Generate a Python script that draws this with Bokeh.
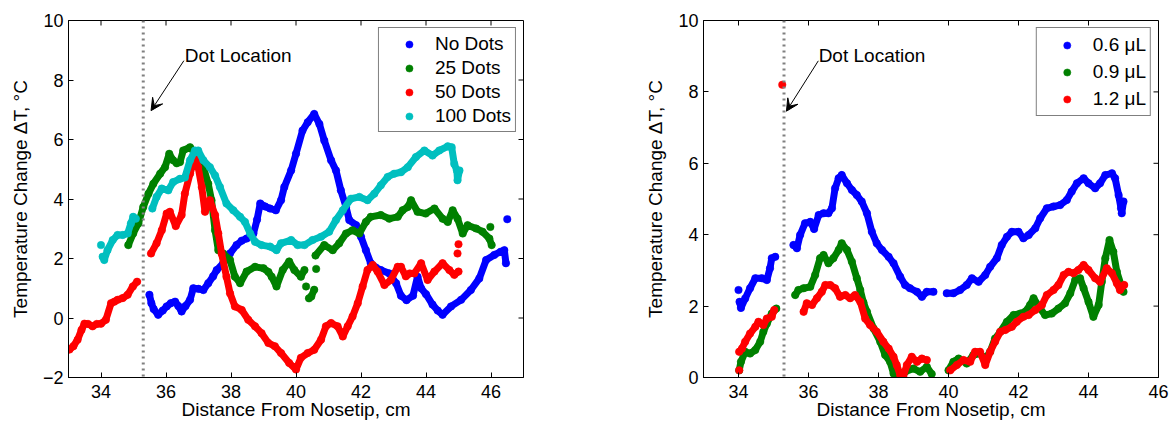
import math
from bokeh.plotting import figure
from bokeh.layouts import row
from bokeh.models import (Span, Label, Arrow, VeeHead, Legend, LegendItem,
                          FixedTicker, Range1d)
from bokeh.embed import file_html
from bokeh.resources import INLINE

nan = float("nan")

# ---------------- left panel: number of dots ----------------
nodots_x = [35.49, 35.55, 35.62, 35.76, 35.9, 36.02, 36.15, 36.28, 36.38, 36.48, 36.6, 36.74,
            36.84, 37.0, 37.15, 37.3, 37.45, 37.56, 37.76, 37.97, 38.17, 38.33, 38.48, 38.69,
            38.8, 38.9, 39.05, 39.2, 39.38, 39.54, 39.64, 39.85, 40.0, 40.2, 40.36, 40.56,
            40.72, 40.87, 41.08, 41.23, 41.38, 41.54, 41.64, 41.85, 42.0, 42.15, 42.3, 42.45,
            42.61, 42.87, 43.08, 43.23, 43.4, 43.6, 43.74, 43.85, 44.0, 44.2, 44.36, 44.51,
            44.77, 45.08, 45.38, 45.64, 45.85, 46.1, 46.3, 46.41, 46.46, nan, 46.5]
nodots_y = [0.78, 0.5, 0.3, 0.11, 0.25, 0.39, 0.5, 0.55, 0.4, 0.22, 0.4, 0.61,
            1.0, 0.98, 0.94, 1.17, 1.4, 1.61, 1.84, 2.17, 2.45, 2.6, 2.67, 2.84,
            3.3, 3.85, 3.75, 3.68, 3.62, 3.96, 4.4, 4.96, 5.52, 6.3, 6.58, 6.86,
            6.52, 5.97, 5.3, 4.96, 4.29, 3.73, 3.29, 3.12, 2.73, 2.28, 1.84, 1.7,
            1.61, 1.5, 1.17, 0.75, 0.6, 0.75, 1.39, 1.0, 0.8, 0.45, 0.25, 0.11,
            0.39, 0.61, 0.94, 1.33, 1.95, 2.12, 2.23, 2.28, 1.84, nan, 3.32]

dots25_x = [34.84, 34.99, 35.15, 35.3, 35.46, 35.61, 35.82, 35.97, 36.1, 36.22, 36.33, 36.43,
            36.53, 36.74, 36.94, 37.15, 37.3, 37.4, 37.51, 37.61, 37.76, 37.97, 38.12, 38.28,
            38.48, 38.74, 39.0, 39.15, 39.25, 39.4, 39.59, 39.79, 39.95, 40.15, 40.26,
            nan, 40.31, nan, 40.4, 40.47, 40.56, nan, 40.62, nan,
            40.6, 40.87, 41.13, 41.33, 41.54, 41.74, 41.95, 42.15, 42.3, 42.61, 42.87, 43.13,
            43.28, 43.44, 43.54, 43.74, 43.99, 44.26, 44.51, 44.67, 44.82, 44.97, 45.13, 45.28,
            45.54, 45.74, 45.95, 46.02, nan, 45.98]
dots25_y = [2.45, 2.84, 3.18, 3.73, 4.18, 4.51, 4.85, 5.07, 5.52, 5.3, 5.2, 5.24,
            5.63, 5.74, 5.46, 5.07, 4.51, 3.96, 2.95, 2.28, 2.17, 1.95, 1.39, 1.17,
            1.56, 1.72, 1.67, 1.55, 1.39, 1.06, 1.61, 1.9, 1.61, 1.39, 1.61,
            nan, 1.06, nan, 0.66, 0.72, 0.95, nan, 1.65, nan,
            2.1, 2.45, 2.28, 2.51, 2.84, 2.95, 2.84, 3.23, 3.4, 3.46, 3.34, 3.4,
            3.62, 3.73, 3.96, 3.57, 3.51, 3.68, 3.34, 3.23, 3.62, 3.34, 2.84, 3.12,
            3.01, 2.9, 2.67, 2.45, nan, 3.06]

dots50_x = [33.03, 33.15, 33.28, 33.4, 33.49, 33.6, 33.74, 33.87, 34.0, 34.15, 34.31, 34.41,
            34.51, 34.67, 34.82, 34.98, 35.11, nan,
            35.54, 35.71, 35.87, 36.02, 36.12, 36.3, 36.48, 36.58, 36.74, 36.89, 36.99, 37.1,
            37.2, 37.35, 37.51, 37.61, 37.71, 37.86, 37.97, 38.12, 38.33, 38.53, 38.74, 38.94,
            39.15, 39.35, 39.54, 39.79, 40.0, 40.15, 40.36, 40.56, 40.77, 40.92, 41.08, 41.28,
            41.44, 41.59, 41.74, 41.9, 42.05, 42.2, 42.36, 42.51, 42.72, 42.92, 43.13, 43.23,
            43.38, 43.5, 43.64, 43.85, 44.05, 44.26, 44.51, 44.72, 44.87, 45.0,
            nan, 44.97, nan, 45.0]
dots50_y = [-1.06, -0.95, -0.73, -0.4, -0.19, -0.2, -0.28, -0.2, -0.19, -0.06, 0.5, 0.55,
            0.61, 0.67, 0.78, 1.06, 1.22, nan,
            2.17, 2.51, 2.95, 3.51, 3.57, 3.09, 3.46, 4.18, 4.85, 5.41, 5.07, 4.4,
            3.57, 3.96, 3.46, 2.84, 2.17, 1.39, 0.83, 0.39, 0.27, -0.06, -0.28, -0.51,
            -0.84, -0.95, -1.18, -1.51, -1.73, -1.34, -1.18, -1.07, -0.73, -0.28, -0.17, -0.28,
            -0.62, -0.28, 0.05, 0.5, 1.06, 1.61, 1.78, 1.56, 1.11, 1.28, 1.72, 1.72,
            1.4, 1.5, 1.5, 1.84, 1.28, 1.56, 1.84, 1.61, 1.45, 1.56,
            nan, 2.17, nan, 2.48]

dots100_x = [34.0, nan,
             34.05, 34.1, 34.2, 34.36, 34.51, 34.67, 34.82, 34.92, 34.99, 35.07, nan,
             35.58, 35.71, 35.87, 36.07, 36.22, 36.43, 36.58, 36.74, 36.89, 36.99, 37.15, 37.35,
             37.51, 37.66, 37.86, 38.07, 38.28, 38.43, 38.59, 38.74, 38.94, 39.2, 39.4, 39.54,
             39.85, 40.05, 40.26, 40.51, 40.77, 41.02, 41.23, 41.44, 41.69, 41.95, 42.2, 42.41,
             42.61, 42.82, 43.02, 43.23, 43.44, 43.69, 43.95, 44.2, 44.41, 44.67, 44.79, 44.87,
             44.95, 44.97, 45.03]
dots100_y = [2.45, nan,
             2.06, 1.95, 2.28, 2.62, 2.79, 2.79, 2.84, 3.18, 3.4, 3.34, nan,
             3.68, 4.07, 4.35, 4.29, 4.57, 4.68, 4.72, 5.3, 5.63, 5.63, 5.3, 5.07,
             4.79, 4.4, 3.85, 3.62, 3.4, 3.23, 2.84, 2.56, 2.45, 2.4, 2.28, 2.51,
             2.62, 2.45, 2.45, 2.62, 2.73, 2.9, 3.29, 3.62, 4.01, 4.07, 3.96, 4.18,
             4.46, 4.74, 4.85, 4.9, 5.07, 5.41, 5.63, 5.46, 5.63, 5.77, 5.74, 5.18,
             4.96, 4.63, 4.96]

# ---------------- right panel: droplet volume ----------------
vol06_x = [34.0, nan,
           34.03, 34.07, 34.19, 34.33, 34.48, 34.67, 34.81, 34.9, 34.95, 35.05, nan,
           35.57, 35.67, 35.76, 35.9, 36.05, 36.16, 36.29, 36.43, 36.57, 36.67, 36.76, 36.86,
           36.95, 37.1, 37.24, 37.38, 37.52, 37.67, 37.81, 37.95, 38.1, 38.29, 38.43, 38.62,
           38.76, 38.9, 39.1, 39.24, 39.38, 39.57, nan,
           39.95, 40.14, 40.33, 40.52, 40.67, 40.86, 41.05, 41.19, 41.38, 41.52, 41.67, 41.81,
           42.0, 42.14, 42.29, 42.48, 42.62, 42.81, 43.0, 43.19, 43.38, 43.52, 43.67, 43.86,
           44.0, 44.19, 44.33, 44.48, 44.67, 44.76, 44.86, 44.93, 44.95, 45.0]
vol06_y = [2.45, nan,
           2.12, 1.95, 2.21, 2.5, 2.78, 2.78, 2.73, 3.06, 3.34, 3.38, nan,
           3.71, 3.62, 3.99, 4.32, 4.36, 4.16, 4.55, 4.6, 4.6, 4.74, 5.3, 5.58,
           5.67, 5.44, 5.25, 5.11, 4.93, 4.6, 4.08, 3.76, 3.57, 3.38, 3.2, 2.82,
           2.59, 2.5, 2.4, 2.26, 2.4, 2.4, nan,
           2.36, 2.36, 2.45, 2.59, 2.78, 2.68, 2.87, 3.1, 3.34, 3.71, 3.94, 4.08,
           4.08, 3.9, 3.99, 4.18, 4.46, 4.74, 4.79, 4.83, 4.97, 5.21, 5.44, 5.58,
           5.44, 5.3, 5.44, 5.67, 5.72, 5.58, 5.11, 4.74, 4.6, 4.93]

vol09_x = [34.02, 34.07, 34.19, 34.33, 34.48, 34.62, 34.71, 34.81, 34.95, 35.08, nan,
           35.62, 35.71, 35.86, 36.05, 36.19, 36.33, 36.43, 36.57, 36.71, 36.86, 36.95, 37.1,
           37.24, 37.38, 37.48, 37.57, 37.67, 37.86, 38.05, 38.19, 38.33, 38.43, 38.52, 38.65,
           38.76, 39.0, 39.19, 39.38, 39.52, nan,
           40.0, 40.14, 40.29, 40.52, 40.71, 40.9, 41.05, 41.19, 41.33, 41.48, 41.67, 41.86,
           42.05, 42.19, 42.33, 42.43, 42.62, 42.76, 42.95, 43.14, 43.33, 43.48, 43.62, 43.76,
           43.86, 44.0, 44.14, 44.29, 44.38, 44.48, 44.6, 44.71, 44.81, 44.93, 45.0]
vol09_y = [0.2, 0.44, 0.72, 0.67, 0.77, 1.0, 1.28, 1.51, 1.79, 1.93, nan,
           2.31, 2.45, 2.5, 2.54, 2.87, 3.34, 3.43, 3.2, 3.34, 3.57, 3.76, 3.57,
           3.24, 2.78, 2.45, 2.1, 1.84, 1.37, 1.0, 0.63, 0.44, 0.11, 0.02, 0.1,
           0.16, 0.25, 0.16, 0.3, 0.1, nan,
           0.2, 0.44, 0.53, 0.39, 0.63, 0.67, 0.53, 0.72, 1.09, 1.28, 1.56, 1.75,
           1.79, 1.84, 2.03, 2.22, 1.93, 1.75, 1.79, 1.93, 2.08, 2.36, 2.73, 2.78,
           2.5, 2.12, 1.7, 2.03, 2.68, 3.34, 3.85, 3.52, 2.96, 2.59, 2.4]

vol12_x = [35.25, nan, 34.02, nan,
           34.02, 34.1, 34.19, 34.33, 34.48, 34.57, 34.71, 34.81, 34.95, 35.02, nan,
           35.86, 35.95, 36.1, 36.24, 36.38, 36.48, 36.62, 36.76, 36.9, 37.05, 37.19, 37.33,
           37.48, 37.62, 37.76, 37.95, 38.14, 38.29, 38.43, 38.52, 38.62, 38.71, 38.81, 38.95,
           39.1, 39.24, 39.38, nan,
           40.05, 40.24, 40.43, 40.62, 40.76, 40.9, 41.05, 41.19, 41.33, 41.48, 41.62, 41.81,
           41.95, 42.14, 42.29, 42.48, 42.67, 42.81, 43.0, 43.14, 43.29, 43.43, 43.57, 43.71,
           43.86, 44.0, 44.19, 44.33, 44.52, 44.67, 44.81, 44.9, 45.02]
vol12_y = [8.2, nan, 0.2, nan,
           0.72, 0.81, 1.0, 1.23, 1.42, 1.56, 1.47, 1.65, 1.7, 1.89, nan,
           1.84, 2.08, 2.03, 2.22, 2.4, 2.59, 2.59, 2.5, 2.26, 2.31, 2.22, 2.31,
           2.12, 1.65, 1.47, 1.28, 1.0, 0.81, 0.58, 0.35, 0.07, 0.04, 0.35, 0.58,
           0.44, 0.53, 0.49, nan,
           0.2, 0.35, 0.49, 0.44, 0.72, 0.72, 0.35, 0.72, 1.0, 1.28, 1.33, 1.42,
           1.56, 1.7, 1.75, 1.89, 2.03, 2.31, 2.45, 2.59, 2.87, 2.96, 2.92, 3.01,
           3.15, 3.01, 2.78, 2.68, 3.06, 2.92, 2.64, 2.45, 2.59]

left_labels = ["No Dots", "25 Dots", "50 Dots", "100 Dots"]
right_labels = ["0.6 μL", "0.9 μL", "1.2 μL"]
x_ticks = [34, 36, 38, 40, 42, 44, 46]
left_y_ticks = [-2, 0, 2, 4, 6, 8, 10]
right_y_ticks = [0, 2, 4, 6, 8, 10]
dot_location = 35.3

FONT = "Liberation Sans"
BLUE, GREEN, RED, CYAN = "#0000ff", "#008000", "#ff0000", "#00bfbf"


def style_axis(ax, ticks):
    ax.ticker = FixedTicker(ticks=ticks)
    ax.major_tick_in = 5
    ax.major_tick_out = 0
    ax.minor_tick_line_color = None
    ax.axis_line_color = "black"
    ax.axis_line_width = 1
    ax.major_tick_line_color = "black"
    ax.major_tick_line_width = 1
    ax.major_label_text_font = FONT
    ax.major_label_text_color = "black"
    ax.major_label_text_font_size = "18px"


def panel(width, xr, yr, yticks, b_left, b_right, ylabel_standoff):
    p = figure(width=width, height=423, x_range=Range1d(*xr), y_range=Range1d(*yr),
               output_backend="svg", toolbar_location=None,
               min_border_left=b_left, min_border_right=b_right,
               min_border_top=20, min_border_bottom=46)
    p.grid.visible = False
    p.outline_line_color = "black"
    p.outline_line_width = 1
    p.background_fill_color = "white"
    p.border_fill_color = "white"

    style_axis(p.xaxis[0], x_ticks)
    style_axis(p.yaxis[0], yticks)
    p.xaxis.major_label_standoff = 7
    p.yaxis.major_label_standoff = 5
    p.yaxis.major_label_overrides = {t: ("−%d" % -t if t < 0 else str(t)) for t in yticks}

    p.xaxis.axis_label = "Distance From Nosetip, cm"
    p.yaxis.axis_label = "Temperature Change ΔT, °C"
    for ax in (p.xaxis[0], p.yaxis[0]):
        ax.axis_label_text_font = FONT
        ax.axis_label_text_font_size = "19px"
        ax.axis_label_text_font_style = "normal"
        ax.axis_label_text_color = "black"
    p.xaxis.axis_label_standoff = -2
    p.yaxis.axis_label_standoff = ylabel_standoff

    # inward tick marks on the top and right edges of the box
    p.ray(x=x_ticks, y=[yr[1]] * len(x_ticks), length=5, length_units="screen",
          angle=-math.pi / 2, line_color="black", line_width=1)
    p.ray(x=[xr[1]] * len(yticks), y=yticks, length=5, length_units="screen",
          angle=math.pi, line_color="black", line_width=1)

    p.add_layout(Span(location=dot_location, dimension="height", line_color="#808080",
                      line_width=3, line_dash="2 4"))
    return p


def add_series(p, xs, ys, color):
    p.line(xs, ys, line_color=color, line_width=7, line_join="round", line_cap="round")
    return p.scatter(xs, ys, size=7.5, fill_color=color, line_color=color, line_width=0.5)


def add_legend(p, items, label_height, spacing):
    legend = Legend(items=items, location="top_right", margin=7, padding=4,
                    glyph_width=52, glyph_height=18, label_height=label_height,
                    spacing=spacing, label_standoff=0,
                    label_text_font=FONT, label_text_font_size="19px",
                    label_text_color="black",
                    border_line_color="black", border_line_width=1,
                    background_fill_color="white", background_fill_alpha=1)
    p.add_layout(legend)


def add_note(p, tx, ty, ax0, ay0, ax1, ay1):
    p.add_layout(Label(x=tx, y=ty, text="Dot Location", text_font=FONT,
                       text_font_size="19px", text_color="black",
                       text_align="left", text_baseline="alphabetic"))
    p.add_layout(Arrow(x_start=ax0, y_start=ay0, x_end=ax1, y_end=ay1,
                       line_color="black", line_width=1,
                       end=VeeHead(size=12, fill_color="black", line_color="black")))


# left figure
p1 = panel(590, (33, 47), (-2, 10), left_y_ticks, 68, 67, 9)
r = [add_series(p1, nodots_x, nodots_y, BLUE),
     add_series(p1, dots25_x, dots25_y, GREEN),
     add_series(p1, dots50_x, dots50_y, RED),
     add_series(p1, dots100_x, dots100_y, CYAN)]
add_legend(p1, [LegendItem(label=lab, renderers=[rr]) for lab, rr in zip(left_labels, r)], 23, 1)
add_note(p1, 36.58, 8.81, 36.55, 8.65, 35.54, 6.97)

# right figure
p2 = panel(581, (33, 46), (0, 10), right_y_ticks, 113, 13, 9)
r2 = [add_series(p2, vol06_x, vol06_y, BLUE),
      add_series(p2, vol09_x, vol09_y, GREEN),
      add_series(p2, vol12_x, vol12_y, RED)]
add_legend(p2, [LegendItem(label=lab, renderers=[rr]) for lab, rr in zip(right_labels, r2)], 25, 2)
add_note(p2, 36.29, 9.01, 36.28, 8.87, 35.37, 7.46)

layout = row(p1, p2)
open("out.html", "w").write(file_html(layout, INLINE))
